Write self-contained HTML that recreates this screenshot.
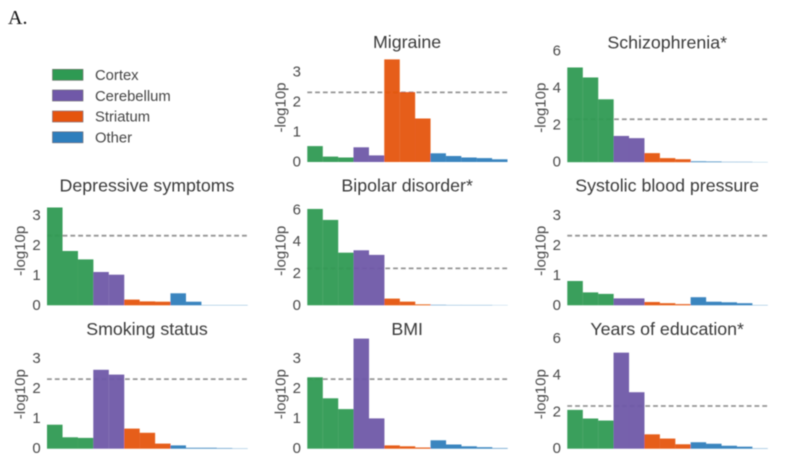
<!DOCTYPE html>
<html>
<head>
<meta charset="utf-8">
<title>Tissue enrichment charts</title>
<style>
html,body{margin:0;padding:0;background:#fff;}
#root{width:785px;height:463px;display:block;overflow:hidden;}
text{font-family:"Liberation Sans",sans-serif;}
</style>
</head>
<body>
<svg id="root" xmlns="http://www.w3.org/2000/svg" width="785" height="463" viewBox="0 0 785 463">
<defs><filter id="soft" x="-5%" y="-5%" width="110%" height="110%"><feGaussianBlur stdDeviation="0.45"/></filter></defs>
<g id="canvas" filter="url(#soft)">
<text x="8" y="24" font-size="20" fill="#111" style="font-family:'Liberation Serif',serif">A.</text>
<g>
<g><rect x="52.5" y="69.3" width="30.5" height="11" fill="#2e9a52" stroke="#666" stroke-width=".6"/><text x="95" y="80" font-size="14.8" fill="#444">Cortex</text></g>
<g><rect x="52.5" y="90" width="30.5" height="11" fill="#6f58a8" stroke="#666" stroke-width=".6"/><text x="95" y="100.8" font-size="14.8" fill="#444">Cerebellum</text></g>
<g><rect x="52.5" y="111" width="30.5" height="11" fill="#e5540a" stroke="#666" stroke-width=".6"/><text x="95" y="121.5" font-size="14.8" fill="#444">Striatum</text></g>
<g><rect x="52.5" y="131.8" width="30.5" height="11" fill="#2f7ebc" stroke="#666" stroke-width=".6"/><text x="95" y="142.3" font-size="14.8" fill="#444">Other</text></g>
</g>
</g>
</svg>
<script>
// Tissue group of each of the 13 bars, left to right
const barGroups = ['Cortex','Cortex','Cortex','Cerebellum','Cerebellum','Striatum','Striatum','Striatum','Other','Other','Other','Other','Other'];

// -log10p values
const migraineValues = [0.53,0.18,0.15,0.49,0.22,3.42,2.33,1.45,0.29,0.20,0.15,0.13,0.09];
const schizophreniaValues = [5.12,4.58,3.40,1.42,1.30,0.49,0.22,0.16,0.05,0.04,0.02,0.02,0.01];
const depressiveValues = [3.26,1.81,1.53,1.11,1.02,0.19,0.13,0.12,0.40,0.12,0.01,0.01,0.01];
const bipolarValues = [6.06,5.37,3.31,3.46,3.17,0.42,0.23,0.06,0.03,0.02,0.02,0.02,0.01];
const systolicValues = [0.81,0.43,0.38,0.23,0.23,0.11,0.07,0.04,0.27,0.12,0.10,0.07,0.01];
const smokingValues = [0.80,0.38,0.36,2.63,2.47,0.67,0.53,0.17,0.11,0.03,0.03,0.02,0.01];
const bmiValues = [2.38,1.68,1.32,3.67,1.01,0.11,0.08,0.04,0.28,0.14,0.08,0.05,0.02];
const educationValues = [2.11,1.64,1.53,5.22,3.07,0.78,0.55,0.24,0.35,0.27,0.16,0.11,0.02];

// Significance threshold and tick labels
const thresholdValue = 2.32;
const ticksSmall = [0,1,2,3];
const ticksLarge = [0,2,4,6];

const groupColors = {Cortex:'#2e9a52',Cerebellum:'#6f58a8',Striatum:'#e5540a',Other:'#2f7ebc'};
const SVGNS = 'http://www.w3.org/2000/svg';
const canvas = document.getElementById('canvas');

function make(tag, attrs, parent, text) {
  const el = document.createElementNS(SVGNS, tag);
  for (const k in attrs) el.setAttribute(k, attrs[k]);
  if (text !== undefined) el.textContent = text;
  parent.appendChild(el);
  return el;
}

function drawPanel(title, slug, values, ticks, left, right, baseline, unit) {
  const g = make('g', {}, canvas);
  
  

  const xScale = i => left + (right - left) * i / values.length;
  const yScale = v => baseline - v * unit;

  const t = make('text', {x:(left + right) / 2 - 0.3, y:baseline - 113.8, 'font-size':17.8, fill:'#3a3a3a', 'text-anchor':'middle'}, g, title);
  
  

  const yt = make('text', {transform:'translate(' + (left - 22) + ',' + (baseline - 54.5) + ') rotate(-90)', 'font-size':15, fill:'#4a4a4a', 'text-anchor':'middle'}, g, '-log10p');
  
  

  ticks.forEach(v => {
    const lab = make('text', {x:left - 6.3, y:yScale(v) + 4.5, 'font-size':15, fill:'#4a4a4a', 'text-anchor':'end'}, g, String(v));
    
    
  });

  const th = make('line', {x1:left, x2:right, y1:yScale(thresholdValue), y2:yScale(thresholdValue), stroke:'#959595', 'stroke-width':1.8, 'stroke-dasharray':'4.8 3'}, g);
  
  

  values.forEach((v, i) => {
    const bar = make('rect', {x:xScale(i), y:yScale(v), width:xScale(i + 1) - xScale(i) + 0.1, height:v * unit, fill:groupColors[barGroups[i]], 'fill-opacity':0.95}, g);
    
    
  });
}

drawPanel('Migraine', 'migraine', migraineValues, ticksSmall, 307.3, 507.4, 162, 30);
drawPanel('Schizophrenia*', 'schizophrenia', schizophreniaValues, ticksLarge, 567.3, 767.7, 162.2, 18.5);
drawPanel('Depressive symptoms', 'depressive-symptoms', depressiveValues, ticksSmall, 47, 247.6, 305.3, 30);
drawPanel('Bipolar disorder*', 'bipolar-disorder', bipolarValues, ticksLarge, 307.3, 507.6, 305.3, 15.9);
drawPanel('Systolic blood pressure', 'systolic-blood-pressure', systolicValues, ticksSmall, 567.3, 767.7, 305.3, 30);
drawPanel('Smoking status', 'smoking-status', smokingValues, ticksSmall, 47, 247.6, 448.7, 30);
drawPanel('BMI', 'bmi', bmiValues, ticksSmall, 307.3, 507.6, 448.7, 30);
drawPanel('Years of education*', 'years-of-education', educationValues, ticksLarge, 567.3, 767.7, 448.7, 18.4);
</script>
</body>
</html>
